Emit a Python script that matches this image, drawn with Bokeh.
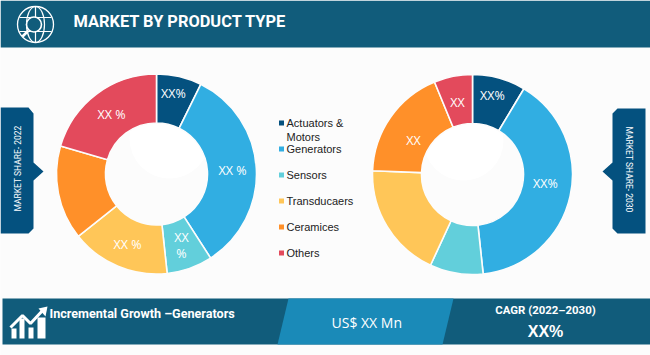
from math import pi
from bokeh.plotting import figure
from bokeh.models import Range1d, ColumnDataSource
from bokeh.core.properties import value
from bokeh.embed import file_html
from bokeh.resources import INLINE

W, H = 650, 355

categories = ["Actuators & Motors", "Generators", "Sensors", "Transducaers", "Ceramices", "Others"]
share_2022 = [7.3, 33.6, 7.4, 16.0, 15.2, 20.5]
share_2030 = [8.6, 39.7, 8.6, 18.7, 18.2, 6.2]
colors = ["#04517f", "#31aee2", "#62cfdb", "#ffc658", "#ff9029", "#e34a5c"]
title_text = "MARKET BY PRODUCT TYPE"
legend_lines = [["Actuators &", "Motors"], ["Generators"], ["Sensors"], ["Transducaers"], ["Ceramices"], ["Others"]]

BG = "#fcfcfc"
DARK = "#115c7b"
MID = "#1a8ab8"
TAG = "#04517f"
NARROW = "Roboto"
SANS = "Liberation Sans"
OPEN = "Open Sans"

p = figure(width=W, height=H, output_backend="svg", toolbar_location=None,
           x_range=Range1d(0, W), y_range=Range1d(0, H), min_border=0,
           background_fill_color=BG, border_fill_color=BG, outline_line_color=None)
p.axis.visible = False
p.grid.visible = False
p.styles = {"position": "absolute", "left": "0px", "top": "0px"}


def Y(y):
    return H - y


def poly(pts, color):
    p.patch([a for a, _ in pts], [Y(b) for _, b in pts], fill_color=color, line_color=None)


def label(x, y, s, size, font=OPEN, color="white", style="normal", align="center", angle=0.0):
    p.text([x], [Y(y)], text=[s], text_font=value(font), text_font_size=f"{size}px",
           text_font_style=style, text_color=color, text_align=align,
           text_baseline="middle", angle=angle)


def donut(cx, cy, shares, glow):
    p.circle([glow[0]], [Y(glow[1])], radius=glow[2], fill_color="white", line_color=None)
    total = sum(shares)
    a0, starts, ends = 0.0, [], []
    for s in shares:
        starts.append(pi / 2 - 2 * pi * a0 / total)
        a0 += s
        ends.append(pi / 2 - 2 * pi * a0 / total)
    src = ColumnDataSource(dict(start=starts, end=ends, color=colors))
    p.annular_wedge(x=cx, y=Y(cy), inner_radius=51, outer_radius=100, start_angle="start", end_angle="end",
                    direction="clock", fill_color="color", line_color=BG, line_width=1.6, source=src)


# header
poly([(0, 0), (W, 0), (W, 47), (0, 47)], DARK)
label(73, 20.5, title_text, 16.4, NARROW, style="bold", align="left")

# globe icon
p.circle([35], [Y(24)], radius=18, line_color="white", line_width=1.3, fill_color=None)
p.ellipse([35], [Y(24)], width=18, height=36, line_color="white", line_width=1.2, fill_color=None)
p.multi_line([[19, 51], [19, 51], [35, 35]], [[Y(17), Y(17)], [Y(31), Y(31)], [Y(6), Y(42)]],
             line_color="white", line_width=1.2)
p.circle([33.5], [Y(24)], radius=7.5, fill_color=DARK, line_color="white", line_width=1.6)
p.line([28, 22], [Y(30), Y(36)], line_color="white", line_width=2.6)

# side tags
poly([(0, 107), (28, 107), (33, 113), (33, 162), (43, 171), (33, 180), (33, 228), (28, 233), (0, 233)], TAG)
poly([(645, 108), (617, 108), (612, 113), (612, 162), (602, 171), (612, 180), (612, 228), (617, 233), (645, 233)], TAG)
label(17, 168, "MARKET SHARE- 2022", 8.5, NARROW, angle=pi / 2)
label(628, 169, "MARKET SHARE- 2030", 8.5, NARROW, angle=-pi / 2)

# donuts
donut(156, 173.5, share_2022, (169, 138, 40))
donut(472, 174, share_2030, (463, 140, 40))

for x, y, s in [(173, 93, "XX%"), (232, 170, "XX %"), (181, 237, "XX"), (181, 253, "%"),
                (127, 244, "XX %"), (111, 114, "XX %"),
                (492, 95, "XX%"), (545, 183, "XX%"), (413, 140, "XX"), (457, 102, "XX")]:
    label(x, y, s, 12.5)

# legend
ly = [122.5, 148.5, 174.5, 200.5, 226.5, 252.5]
for lines, c, y in zip(legend_lines, colors, ly):
    p.scatter([281], [Y(y)], marker="square", size=5, fill_color=c, line_color=None)
    for i, t in enumerate(lines):
        label(286, y + i * 13.5, t, 11, SANS, color="#222222", align="left")

# footer
poly([(2, 298), (W, 298), (W, 344), (2, 344)], DARK)
poly([(288, 298), (453, 298), (442, 344), (277, 344)], MID)
label(49, 313, "Incremental Growth \u2013Generators", 12.6, NARROW, style="bold", align="left")
label(331, 322, "US$ XX Mn", 14, OPEN, align="left")
label(545, 309, "CAGR (2022\u20132030)", 11.4, NARROW, style="bold")
label(545, 331, "XX%", 16, SANS, style="bold")

# growth icon
p.quad(left=[11, 19, 28, 37], right=[16, 24, 33, 45],
       top=[Y(328), Y(318), Y(327), Y(317)], bottom=[Y(338)] * 4, fill_color="white", line_color=None)
p.line([10, 22, 30, 43], [Y(327), Y(315), Y(323), Y(309)], line_color="white", line_width=3)
poly([(47, 306), (38, 308), (45, 316)], "white")

open("out.html", "w").write(file_html(p, INLINE))
